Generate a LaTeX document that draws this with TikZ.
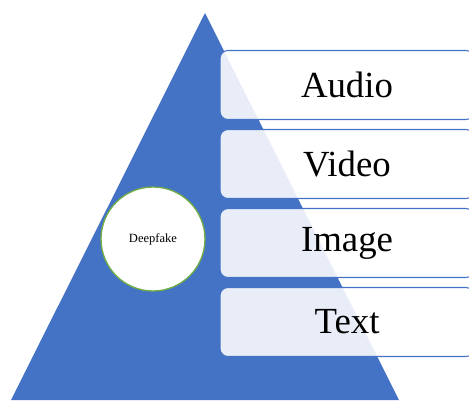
\documentclass[tikz,border=0pt]{standalone}
\usepackage{fontspec}
\setmainfont{Liberation Serif}
\definecolor{triblue}{HTML}{4472C4}
\definecolor{circgreen}{HTML}{70AD47}
\begin{document}
\begin{tikzpicture}[x=0.75pt,y=-0.75pt,
  layerbox/.style={draw=triblue, line width=0.8pt, fill=white, fill opacity=0.88, text opacity=1,
    rounded corners=6pt, minimum width=254*0.75pt, minimum height=69*0.75pt, inner sep=0pt,
    font=\fontsize{27.6pt}{30pt}\selectfont},
  centercircle/.style={circle, draw=circgreen, line width=1pt, fill=white, minimum size=104*0.75pt,
    inner sep=0pt, font=\fontsize{9.4pt}{11pt}\selectfont}]
\useasboundingbox (0,0) rectangle (469,401);
\begin{scope}
\clip (0,0) rectangle (469,401);
\fill[triblue] (205,13) -- (399,400) -- (11,400) -- cycle;
\node[layerbox] (audio) at (347,85) {Audio};
\node[layerbox] (video) at (347,164) {Video};
\node[layerbox] (image) at (347,243) {Image};
\node[layerbox] (text) at (347,322) {Text};
\node[centercircle] (deepfake) at (153,239) {Deepfake};
\end{scope}
\end{tikzpicture}
\end{document}
